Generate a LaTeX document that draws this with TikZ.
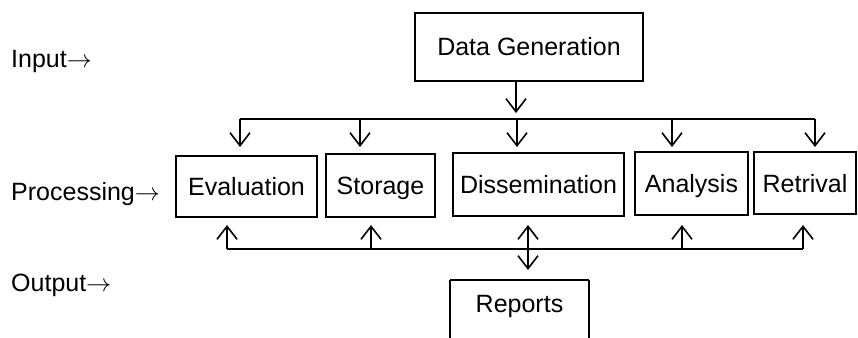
\documentclass[tikz,border=0pt]{standalone}
\usepackage{fontspec}
\setmainfont{Liberation Sans}
\usetikzlibrary{arrows.meta}
\newcommand{\rarr}{$\rightarrow$}
\begin{document}
\begin{tikzpicture}[x=1pt,y=-1pt,
  boxnode/.style={draw, line width=1.6pt, inner sep=0pt, text height=18pt, text depth=0pt, font=\fontsize{25}{29}\selectfont},
  lbl/.style={anchor=base west, inner sep=0pt, font=\fontsize{25}{29}\selectfont},
  conn/.style={line width=1.6pt},
  arr/.style={line width=1.6pt, -{Straight Barb[length=13pt,width=20pt,line width=1.6pt]}},
  darr/.style={line width=1.6pt, {Straight Barb[length=13pt,width=20pt,line width=1.6pt]}-{Straight Barb[length=13pt,width=20pt,line width=1.6pt]}}]
\useasboundingbox[fill=white] (0,0) rectangle (858,337);
\clip (0,0) rectangle (858,337);
% labels
\node[lbl] (in) at (11,67) {Input\rarr};
\node[lbl] (pr) at (11,200) {Processing\rarr};
\node[lbl] (out) at (11,291) {Output\rarr};
% boxes
\node[boxnode, minimum width=228, minimum height=68] (dg) at (529,47) {Data Generation};
\node[boxnode, minimum width=141, minimum height=61] (ev) at (246.5,186.5) {Evaluation};
\node[boxnode, minimum width=109, minimum height=63] (st) at (380.5,185.5) {Storage};
\node[boxnode, minimum width=171, minimum height=63] (di) at (538.5,184.5) {Dissemination};
\node[boxnode, minimum width=113, minimum height=63] (an) at (691.5,183.5) {Analysis};
\node[boxnode, minimum width=102, minimum height=62] (re) at (805,183) {Retrival};
\node[boxnode, draw=none, minimum width=137, minimum height=45, anchor=north] (rep) at (519.5,280) {Reports};
\draw[conn] (rep.north west) -- (rep.north east);
\draw[conn] (rep.north west) -- ++(0,70);
\draw[conn] (rep.north east) -- ++(0,70);
% top bus
\coordinate (tb1) at (240,119);
\coordinate (tb2) at (815,119);
\draw[arr] (dg.south -| 516,0) -- (516,113);
\draw[conn] (tb1) -- (tb2);
\draw[arr] (tb1) -- (240,147);
\draw[arr] (360,119) -- (360,147);
\draw[arr] (517,119) -- (517,147);
\draw[arr] (672,119) -- (672,147);
\draw[arr] (tb2) -- (815,147);
% bottom bus
\coordinate (bb1) at (227,249);
\coordinate (bb2) at (803,249);
\draw[conn] (bb1) -- (bb2);
\draw[arr] (bb1) -- (227,225);
\draw[arr] (371,249) -- (371,225);
\draw[arr] (682,249) -- (682,225);
\draw[arr] (bb2) -- (803,225);
\draw[darr] (528,225) -- (528,270);
\end{tikzpicture}
\end{document}
